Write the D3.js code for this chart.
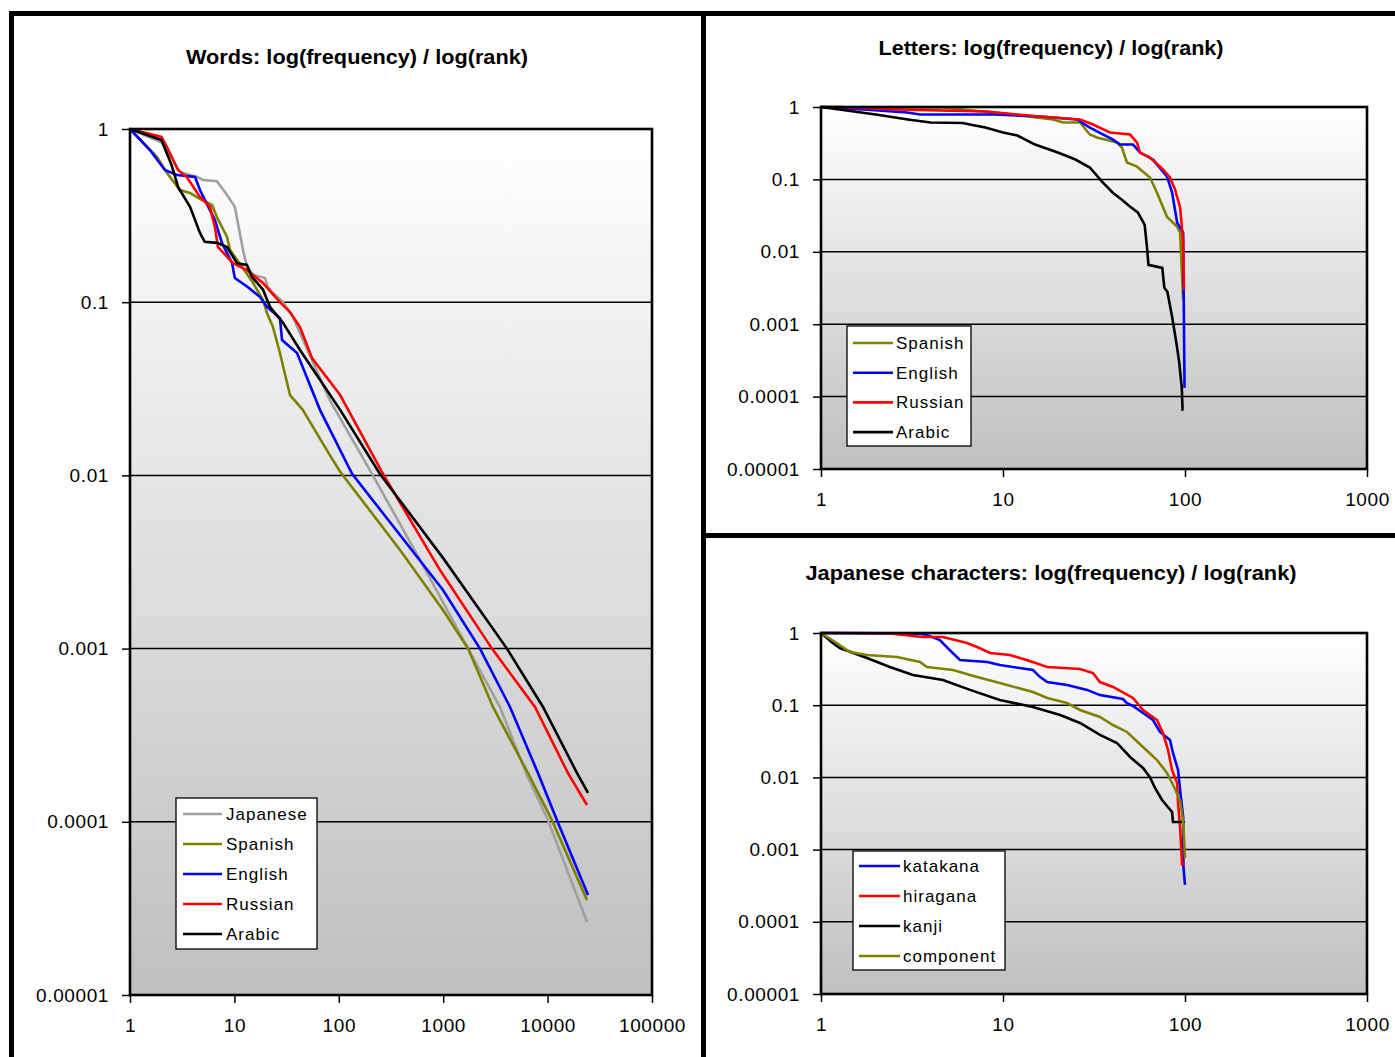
<!DOCTYPE html>
<html>
<head>
<meta charset="utf-8">
<script src="https://cdn.jsdelivr.net/npm/d3@7"></script>
<style>
  body { margin: 0; background: #fff; }
  svg { display: block; }
  text { font-family: Arial, "Liberation Sans", sans-serif; fill: #000; }
</style>
</head>
<body>
<svg id="chart" width="1395" height="1057"></svg>
<script>
// y tick values shared by all three charts
var yTicks = [1, 0.1, 0.01, 0.001, 0.0001, 0.00001];
var yTickLabels = ["1", "0.1", "0.01", "0.001", "0.0001", "0.00001"];
var wordsXTicks = [1, 10, 100, 1000, 10000, 100000];
var wordsXLabels = ["1", "10", "100", "1000", "10000", "100000"];
var charXTicks = [1, 10, 100, 1000];
var charXLabels = ["1", "10", "100", "1000"];

// words: [rank, relative frequency]
var wordsNames = ["Japanese", "Spanish", "English", "Russian", "Arabic"];
var wordsColors = ["#a0a0a0", "#808000", "#0000ff", "#ff0000", "#000000"];
var wordsJapanese = [[1,1],[2.07,0.83],[3,0.565],[4.4,0.528],[5,0.508],[6.8,0.5],[8.5,0.416],[10.1,0.355],[10.8,0.287],[12.1,0.2],[13.2,0.16],[15.1,0.144],[19.6,0.138],[21,0.122],[23.4,0.113],[29.2,0.1],[36.4,0.082],[82,0.0272],[208,0.0102],[600,0.00325],[1730,0.001],[3500,0.00046],[6210,0.000191],[10090,0.000102],[23850,0.0000264]];
var wordsSpanish = [[1,1],[1.81,0.69],[2.26,0.557],[3.01,0.444],[3.76,0.427],[4.9,0.389],[6.1,0.364],[6.8,0.31],[8.5,0.238],[9.1,0.2],[12.1,0.157],[15.1,0.129],[18.8,0.103],[20.5,0.0866],[23.4,0.0719],[27.3,0.0509],[34.1,0.0291],[45,0.024],[82,0.0131],[103,0.0105],[386,0.00371],[995,0.00167],[1730,0.001],[3000,0.00046],[6490,0.000191],[11020,0.000102],[23850,0.0000353]];
var wordsEnglish = [[1,1],[1.55,0.756],[2.16,0.58],[2.82,0.542],[4.2,0.528],[4.68,0.444],[6.5,0.298],[7.6,0.22],[9.5,0.168],[10.1,0.138],[13.5,0.122],[17.6,0.107],[20.5,0.094],[27.3,0.081],[28.6,0.0605],[39.8,0.0509],[66,0.0239],[134,0.0102],[386,0.00453],[995,0.00218],[2250,0.001],[4365,0.00046],[8090,0.000191],[12300,0.000102],[24380,0.0000378]];
var wordsRussian = [[1,1],[2,0.9],[2.26,0.787],[2.88,0.58],[3.5,0.528],[4.68,0.405],[5.84,0.355],[6.5,0.272],[6.97,0.208],[9.7,0.168],[13.2,0.153],[18.8,0.129],[27.3,0.1],[34.1,0.0877],[42.5,0.0719],[55.3,0.0476],[103,0.0291],[265,0.0102],[931,0.00284],[2930,0.001],[7570,0.00046],[15670,0.000191],[23850,0.000125]];
var wordsArabic = [[1,1],[2,0.864],[2.5,0.62],[2.9,0.46],[3.76,0.355],[4.68,0.251],[5.2,0.223],[6.8,0.22],[8.5,0.208],[10.6,0.168],[13.2,0.164],[14.7,0.14],[18.8,0.118],[21.9,0.094],[29.2,0.076],[42.5,0.053],[103,0.0239],[248,0.0102],[995,0.00334],[4080,0.001],[9040,0.00046],[19140,0.000191],[24380,0.000147]];

// letters
var lettersNames = ["Spanish", "English", "Russian", "Arabic"];
var lettersColors = ["#808000", "#0000ff", "#ff0000", "#000000"];
var lettersSpanish = [[1,1],[1.79,0.985],[4.68,0.985],[6,0.92],[11.4,0.787],[18.8,0.672],[21.4,0.61],[26.5,0.61],[30,0.417],[32.8,0.379],[42.3,0.323],[45,0.276],[48,0.171],[54.5,0.15],[64.2,0.106],[70.2,0.0656],[79.6,0.0305],[90.6,0.0222],[94,0.0184],[97.7,0.0022]];
var lettersEnglish = [[1,1],[1.79,0.92],[2.97,0.84],[3.5,0.787],[8.8,0.787],[16,0.74],[25.5,0.672],[30,0.52],[40.2,0.355],[44,0.303],[51.8,0.303],[56.6,0.235],[66.7,0.188],[79.6,0.11],[84.9,0.066],[90.6,0.0252],[97.7,0.0184],[99.4,0.000132]];
var lettersRussian = [[1,1],[1.27,1],[2.82,0.92],[8.2,0.867],[11.9,0.787],[18.8,0.716],[26.5,0.672],[31.2,0.573],[38.7,0.444],[49.9,0.416],[54.5,0.323],[56.6,0.235],[64.2,0.2],[75.7,0.137],[82.7,0.106],[88.2,0.0723],[94,0.041],[97.5,0.0147],[98.8,0.003]];
var lettersArabic = [[1,1],[2,0.787],[3,0.672],[4,0.61],[6,0.6],[7,0.555],[8,0.52],[10,0.444],[12,0.404],[15,0.303],[20,0.235],[25,0.188],[30,0.146],[35,0.093],[40,0.066],[45,0.0525],[50,0.042],[55,0.035],[60,0.0237],[62,0.0107],[63,0.0066],[75,0.006],[77,0.00318],[80,0.0028],[85,0.00126],[90,0.00052],[93,0.000293],[96,0.000132],[97,0.000066],[98,0.000066]];

// japanese characters
var jpNames = ["katakana", "hiragana", "kanji", "component"];
var jpColors = ["#0000ff", "#ff0000", "#000000", "#808000"];
var jpKatakana = [[1,1],[3.5,0.98],[3.82,0.94],[4.5,0.8],[5.1,0.58],[5.8,0.423],[8.2,0.396],[9.6,0.36],[14.6,0.307],[16,0.245],[17.5,0.209],[22.5,0.19],[29,0.163],[34.1,0.138],[45.6,0.122],[48,0.107],[51.8,0.0975],[58.8,0.078],[66.7,0.0624],[72.9,0.0426],[82.7,0.033],[85.9,0.0218],[91.6,0.0127],[94,0.0067],[97.7,0.00283],[98,0.00058],[100,0.000324]];
var jpHiragana = [[1,1],[2.3,0.99],[3.63,0.88],[4.68,0.88],[6.34,0.726],[7.2,0.64],[8.5,0.528],[10.9,0.495],[13.5,0.423],[17.5,0.338],[26.5,0.317],[31.2,0.279],[34.1,0.209],[40.2,0.179],[51.8,0.126],[58.8,0.0859],[70.2,0.0624],[75.7,0.0412],[80.7,0.024],[84.9,0.0126],[90.6,0.0083],[91.6,0.0044],[94,0.002],[96.3,0.00063],[100,0.00063]];
var jpKanji = [[1,1],[1.16,0.727],[1.27,0.62],[1.79,0.451],[2.39,0.338],[3.2,0.262],[4.68,0.223],[6.59,0.163],[9.6,0.118],[14.6,0.0944],[20.6,0.0731],[26.5,0.0567],[34.1,0.0387],[42.3,0.03],[49.9,0.0192],[58.8,0.0135],[64.2,0.0101],[68.4,0.00713],[74.8,0.00486],[84.9,0.00332],[85.9,0.00241],[100,0.00241]];
var jpComponent = [[1,1],[1.22,0.727],[1.44,0.546],[1.79,0.495],[2.62,0.466],[3.5,0.396],[3.82,0.338],[5.31,0.307],[7.2,0.246],[9.6,0.203],[14.6,0.152],[17.5,0.126],[22.5,0.107],[26.5,0.0859],[34.1,0.0687],[40.2,0.0532],[48,0.0426],[58.8,0.0264],[70.2,0.0174],[79.6,0.0115],[88.2,0.0069],[94,0.0047],[97.7,0.00249],[100,0.000766]];

var svg = d3.select("#chart");

var defs = svg.append("defs");
var grad = defs.append("linearGradient").attr("id", "plotBg")
    .attr("x1", 0).attr("y1", 0).attr("x2", 0).attr("y2", 1);
grad.append("stop").attr("offset", "0%").attr("stop-color", "#ffffff");
grad.append("stop").attr("offset", "100%").attr("stop-color", "#bfbfbf");

// outer frame
svg.append("rect").attr("x", 9).attr("y", 11).attr("width", 1386).attr("height", 5).attr("fill", "#000");
svg.append("rect").attr("x", 9).attr("y", 11).attr("width", 5).attr("height", 1046).attr("fill", "#000");
svg.append("rect").attr("x", 701).attr("y", 11).attr("width", 5).attr("height", 1046).attr("fill", "#000");
svg.append("rect").attr("x", 701).attr("y", 533).attr("width", 694).attr("height", 5).attr("fill", "#000");

function drawChart(cfg) {
  var x = d3.scaleLog().domain(cfg.xDomain).range([cfg.left, cfg.right]);
  var y = d3.scaleLog().domain([0.00001, 1]).range([cfg.bottom, cfg.top]);
  var g = svg.append("g");

  g.append("text")
      .attr("x", cfg.titleX).attr("y", cfg.titleY)
      .attr("text-anchor", "middle")
      .attr("font-size", 21).attr("font-weight", "bold")
      .attr("textLength", cfg.titleW).attr("lengthAdjust", "spacingAndGlyphs")
      .text(cfg.title);

  g.append("rect")
      .attr("x", cfg.left).attr("y", cfg.top)
      .attr("width", cfg.right - cfg.left).attr("height", cfg.bottom - cfg.top)
      .attr("fill", "url(#plotBg)");

  g.append("g").selectAll("line")
    .data(yTicks.slice(1, -1))
    .join("line")
      .attr("x1", cfg.left).attr("x2", cfg.right)
      .attr("y1", d => y(d)).attr("y2", d => y(d))
      .attr("stroke", "#000").attr("stroke-width", 1.5);

  var yAxis = g.append("g")
      .attr("transform", `translate(${cfg.left},0)`)
      .call(d3.axisLeft(y).tickValues(yTicks)
        .tickFormat((d, i) => yTickLabels[i]).tickSize(8).tickPadding(13));
  var xAxis = g.append("g")
      .attr("transform", `translate(0,${cfg.bottom})`)
      .call(d3.axisBottom(x).tickValues(cfg.xTicks)
        .tickFormat((d, i) => cfg.xLabels[i]).tickSize(8).tickPadding(16));
  [yAxis, xAxis].forEach(function(a) {
    a.select(".domain").remove();
    a.selectAll("line").attr("stroke", "#000").attr("stroke-width", 1.5);
    a.selectAll("text").attr("font-size", 19).attr("letter-spacing", 0.6)
      .attr("font-family", "Arial, 'Liberation Sans', sans-serif").attr("fill", "#000");
  });

  var line = d3.line().x(d => x(d[0])).y(d => y(d[1]));
  g.append("g").selectAll("path")
    .data(cfg.series)
    .join("path")
      .attr("d", d => line(d))
      .attr("fill", "none")
      .attr("stroke", (d, i) => cfg.colors[i])
      .attr("stroke-width", 2.6)
      .attr("stroke-linejoin", "miter");

  g.append("rect")
      .attr("x", cfg.left).attr("y", cfg.top)
      .attr("width", cfg.right - cfg.left).attr("height", cfg.bottom - cfg.top)
      .attr("fill", "none").attr("stroke", "#000").attr("stroke-width", 2.6);

  var lg = cfg.legend;
  var leg = g.append("g").attr("transform", `translate(${lg.x},${lg.y})`);
  leg.append("rect").attr("width", lg.w).attr("height", lg.h)
      .attr("fill", "#fff").attr("stroke", "#000").attr("stroke-width", 1.3);
  var item = leg.selectAll("g.item").data(cfg.names).join("g")
      .attr("class", "item")
      .attr("transform", (d, i) => `translate(0,${lg.first + i * lg.gap})`);
  item.append("line").attr("x1", lg.lx1).attr("x2", lg.lx2)
      .attr("stroke", (d, i) => cfg.colors[i]).attr("stroke-width", 2.6);
  item.append("text").attr("x", lg.tx).attr("dy", "0.35em")
      .attr("font-size", 17).attr("letter-spacing", 1)
      .text(d => d);
}

drawChart({
  title: "Words: log(frequency) / log(rank)", titleX: 357, titleY: 64, titleW: 342,
  left: 130, right: 652, top: 129, bottom: 995,
  xDomain: [1, 100000], xTicks: wordsXTicks, xLabels: wordsXLabels,
  names: wordsNames, colors: wordsColors,
  series: [wordsJapanese, wordsSpanish, wordsEnglish, wordsRussian, wordsArabic],
  legend: {x: 176, y: 798, w: 141, h: 151, first: 16, gap: 30, lx1: 7, lx2: 46, tx: 50}
});

drawChart({
  title: "Letters: log(frequency) / log(rank)", titleX: 1051, titleY: 55, titleW: 345,
  left: 821, right: 1367, top: 107, bottom: 469,
  xDomain: [1, 1000], xTicks: charXTicks, xLabels: charXLabels,
  names: lettersNames, colors: lettersColors,
  series: [lettersSpanish, lettersEnglish, lettersRussian, lettersArabic],
  legend: {x: 847, y: 326, w: 124, h: 120, first: 17, gap: 29.7, lx1: 6, lx2: 46, tx: 49}
});

drawChart({
  title: "Japanese characters: log(frequency) / log(rank)", titleX: 1051, titleY: 580, titleW: 491,
  left: 821, right: 1367, top: 633, bottom: 994,
  xDomain: [1, 1000], xTicks: charXTicks, xLabels: charXLabels,
  names: jpNames, colors: jpColors,
  series: [jpKatakana, jpHiragana, jpKanji, jpComponent],
  legend: {x: 853, y: 851, w: 152, h: 119, first: 15, gap: 30, lx1: 6, lx2: 47, tx: 50}
});
</script>
</body>
</html>
